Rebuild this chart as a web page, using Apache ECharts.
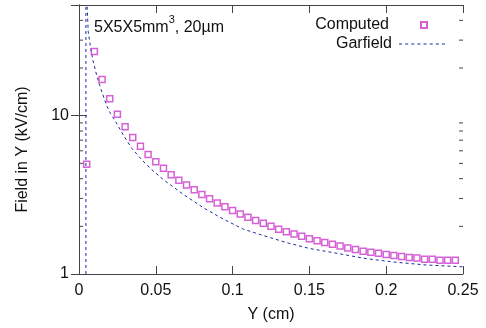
<!DOCTYPE html>
<html>
<head>
<meta charset="utf-8">
<script src="https://cdn.jsdelivr.net/npm/echarts@6/dist/echarts.min.js"></script>
<style>
  html, body { margin: 0; padding: 0; background: #fff; }
  #chart { width: 486px; height: 328px; }
</style>
</head>
<body>
<div id="chart"></div>
<script>
// computed field values, one point every 0.005 cm
const computedX = [0.005, 0.01, 0.015, 0.02, 0.025, 0.03, 0.035, 0.04, 0.045, 0.05,
  0.055, 0.06, 0.065, 0.07, 0.075, 0.08, 0.085, 0.09, 0.095, 0.1,
  0.105, 0.11, 0.115, 0.12, 0.125, 0.13, 0.135, 0.14, 0.145, 0.15,
  0.155, 0.16, 0.165, 0.17, 0.175, 0.18, 0.185, 0.19, 0.195, 0.2,
  0.205, 0.21, 0.215, 0.22, 0.225, 0.23, 0.235, 0.24, 0.245];
const computedY = [4.94, 25.4, 16.9, 12.8, 10.2, 8.5, 7.29, 6.4, 5.68, 5.11,
  4.66, 4.24, 3.91, 3.65, 3.4, 3.18, 2.99, 2.81, 2.66, 2.52,
  2.39, 2.28, 2.18, 2.09, 2.0, 1.92, 1.85, 1.79, 1.73, 1.67,
  1.62, 1.58, 1.54, 1.5, 1.46, 1.43, 1.39, 1.37, 1.35, 1.33,
  1.31, 1.29, 1.27, 1.26, 1.24, 1.24, 1.22, 1.22, 1.22];

// garfield curve (rises at the wire, then decays)
const garfieldX = [0.0045, 0.0045, 0.0052, 0.006, 0.0075, 0.009, 0.0115, 0.0135, 0.0155, 0.018,
  0.0205, 0.0235, 0.029, 0.0345, 0.041, 0.0475, 0.055, 0.068, 0.081, 0.094,
  0.107, 0.12, 0.135, 0.15, 0.17, 0.187, 0.205, 0.226, 0.25];
const garfieldY = [1, 100, 52, 34, 27, 22.5, 18, 15.5, 13.6, 11.6,
  10.3, 9.3, 7.5, 6.2, 5.25, 4.55, 3.94, 3.18, 2.62, 2.22,
  1.92, 1.75, 1.58, 1.45, 1.34, 1.25, 1.19, 1.14, 1.11];

const xTicks = [0, 0.05, 0.1, 0.15, 0.2, 0.25];
const yMinorTicks = [2, 3, 4, 5, 6, 7, 8, 9, 20, 30, 40];

const FONT = "'Liberation Sans', Arial, sans-serif";
const AXIS = '#444';
const TEXT = '#111';
const MAGENTA = '#cc3acc';
const NAVY = '#1f2a9e';

// dashed legend sample for the Garfield line
const DASH_ICON = 'path://M0 0h3v1h-3zM6 0h3v1h-3zM12 0h3v1h-3zM18 0h3v1h-3zM24 0h3v1h-3zM30 0h3v1h-3zM36 0h3v1h-3zM42 0h3v1h-3z';

const chart = echarts.init(document.getElementById('chart'));

const xCommon = {
  type: 'value',
  min: xTicks[0],
  max: xTicks[xTicks.length - 1],
  interval: 0.05,
  splitLine: { show: false },
  axisLine: { lineStyle: { color: AXIS, width: 1 } },
  axisTick: { inside: true, length: 8, lineStyle: { color: AXIS } },
};
const yCommon = {
  type: 'log',
  logBase: 10,
  min: 1,
  max: 50,
  splitLine: { show: false },
  axisLine: { show: true, lineStyle: { color: AXIS, width: 1 } },
  axisTick: { inside: true, length: 8, lineStyle: { color: AXIS } },
};

const legendText = (pad) => ({
  fontSize: 16, fontFamily: FONT, color: TEXT, lineHeight: 16, padding: [0, pad, 0, 0],
});

chart.setOption({
  animation: false,
  backgroundColor: '#fff',
  textStyle: { fontFamily: FONT },
  grid: { left: 79, right: 23, top: 5, bottom: 51 },
  title: {
    text: '{a|5X5X5mm}{s|3}{a|, 20\u00b5m}',
    left: 89,
    top: 9,
    textStyle: {
      rich: {
        a: { fontSize: 16, fontWeight: 'normal', fontFamily: FONT, color: TEXT, lineHeight: 22, verticalAlign: 'bottom' },
        s: { fontSize: 11, fontWeight: 'normal', fontFamily: FONT, color: TEXT, lineHeight: 22, verticalAlign: 'top' },
      },
    },
  },
  legend: [
    {
      orient: 'vertical',
      align: 'right',
      right: 53,
      top: 12,
      itemWidth: 6,
      itemHeight: 6,
      textStyle: legendText(27),
      data: [{ name: 'Computed', icon: 'rect' }],
    },
    {
      orient: 'vertical',
      align: 'right',
      right: 36,
      top: 31,
      itemWidth: 46,
      itemHeight: 6,
      textStyle: legendText(2),
      data: [{ name: 'Garfield', icon: DASH_ICON, itemStyle: { color: NAVY } }],
    },
  ],
  xAxis: [
    Object.assign({}, xCommon, {
      position: 'bottom',
      name: 'Y (cm)',
      nameLocation: 'middle',
      nameGap: 33,
      nameTextStyle: { fontSize: 16, color: TEXT, fontFamily: FONT },
      axisLabel: {
        fontSize: 16, color: TEXT, margin: 9, fontFamily: FONT,
        formatter: (v) => String(+v.toFixed(2)),
      },
    }),
    Object.assign({}, xCommon, { position: 'top', axisLabel: { show: false } }),
  ],
  yAxis: [
    Object.assign({}, yCommon, {
      position: 'left',
      name: 'Field in Y (kV/cm)',
      nameLocation: 'middle',
      nameGap: 48,
      nameTextStyle: { fontSize: 16, color: TEXT, fontFamily: FONT, padding: [0, 20, 0, 0] },
      axisLabel: {
        fontSize: 16, color: TEXT, margin: 10, fontFamily: FONT,
        formatter: (v) => {
          const e = Math.log10(v);
          return Math.abs(e - Math.round(e)) < 1e-6 ? String(Math.round(v)) : '';
        },
      },
    }),
    Object.assign({}, yCommon, { position: 'right', axisLabel: { show: false } }),
  ],
  series: [
    {
      name: 'Garfield',
      type: 'line',
      data: garfieldX.map((x, i) => [x, garfieldY[i]]),
      symbol: 'none',
      clip: true,
      lineStyle: { color: NAVY, width: 1, type: [3, 3] },
      itemStyle: { color: NAVY },
      z: 2,
    },
    {
      name: 'Computed',
      type: 'scatter',
      data: computedX.map((x, i) => [x, computedY[i]]),
      symbol: 'rect',
      symbolSize: 6,
      itemStyle: { color: 'rgba(255,255,255,0)', borderColor: MAGENTA, borderWidth: 1.5 },
      z: 3,
    },
    {
      // log-axis minor ticks on both sides
      name: 'minorTicks',
      type: 'custom',
      silent: true,
      clip: false,
      data: yMinorTicks.map((v) => [0, v]),
      renderItem: (params, api) => {
        const y = api.coord([0, api.value(1)])[1];
        const cs = params.coordSys;
        const style = { stroke: AXIS, lineWidth: 1 };
        return {
          type: 'group',
          children: [
            { type: 'line', shape: { x1: cs.x, y1: y, x2: cs.x + 4, y2: y }, style },
            { type: 'line', shape: { x1: cs.x + cs.width - 4, y1: y, x2: cs.x + cs.width, y2: y }, style },
          ],
        };
      },
    },
  ],
});
</script>
</body>
</html>
